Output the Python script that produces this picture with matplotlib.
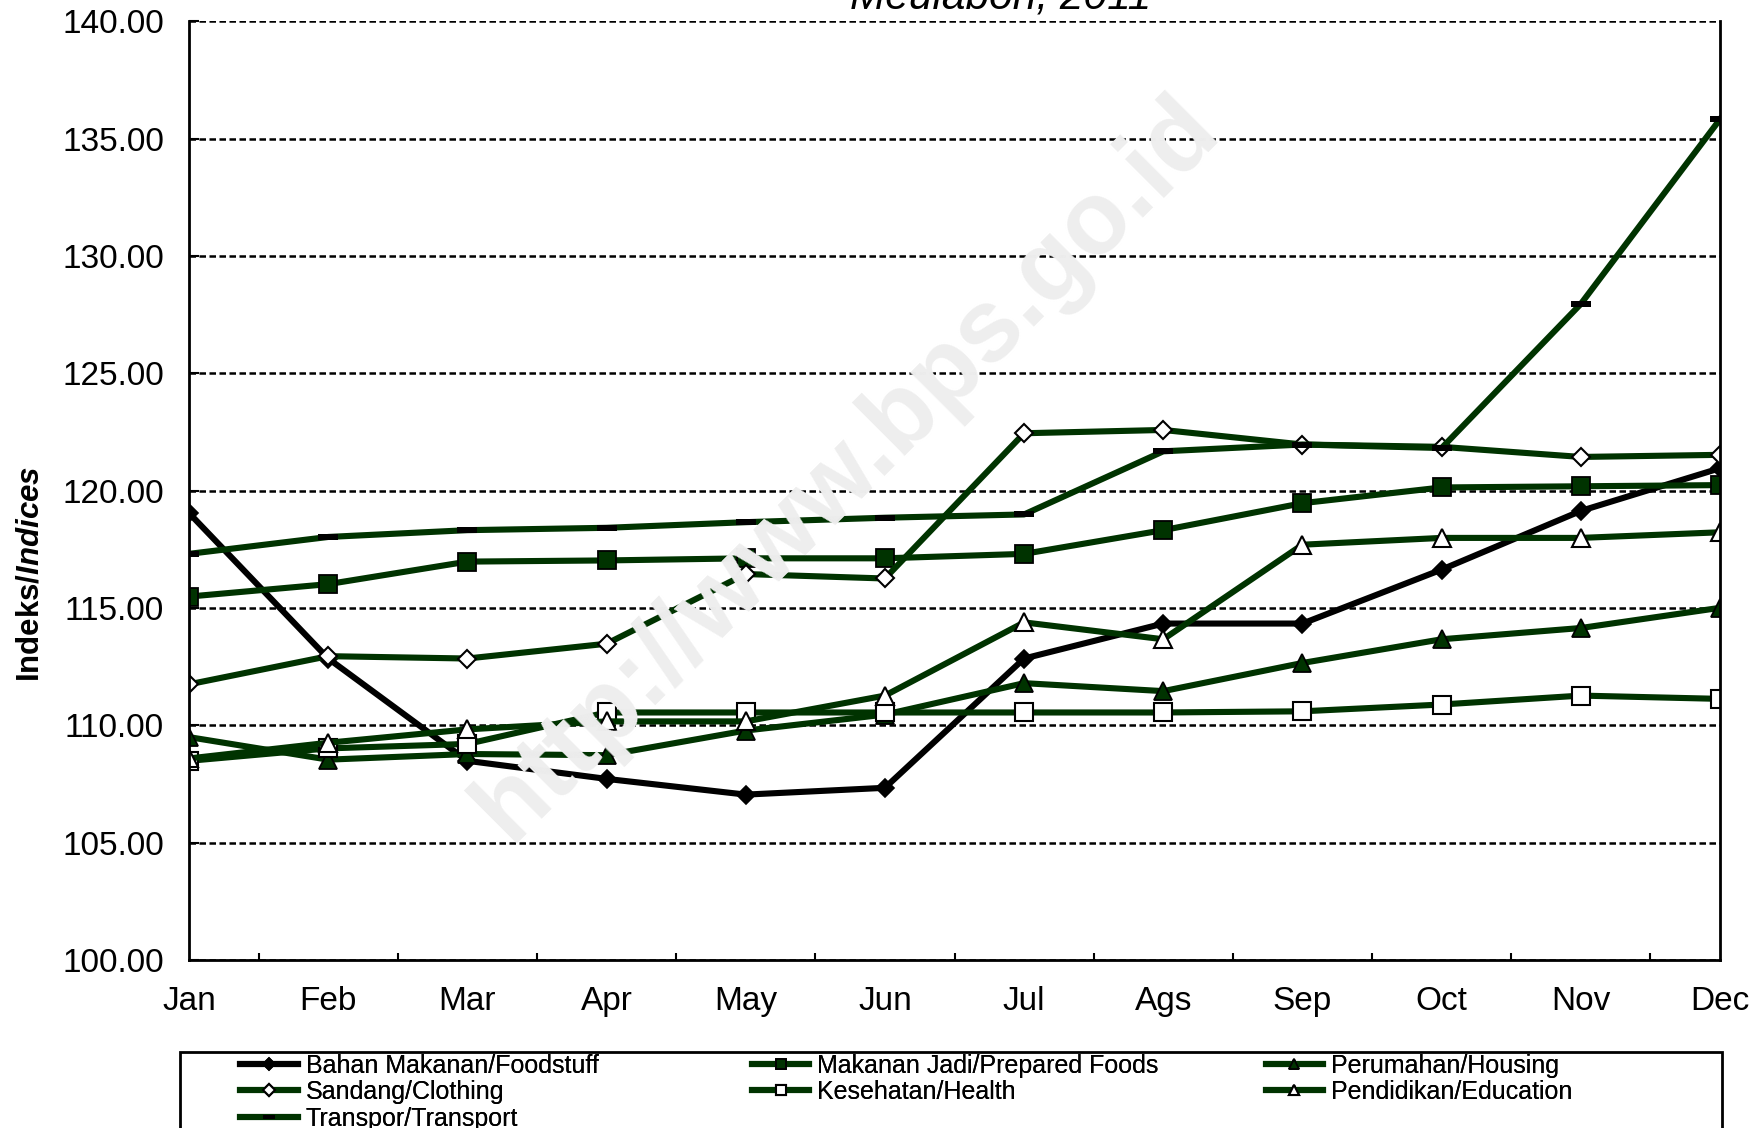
"""Indeks harga konsumen per kelompok, Meulaboh 2011."""

import matplotlib
matplotlib.use('Agg')
import matplotlib.pyplot as plt
from matplotlib.patches import Rectangle
from matplotlib.ticker import FormatStrFormatter, FixedLocator

plt.rcParams['font.family'] = ['Liberation Sans', 'DejaVu Sans']
plt.rcParams['mathtext.fontset'] = 'custom'
plt.rcParams['mathtext.rm'] = 'Liberation Sans'
plt.rcParams['mathtext.bf'] = 'Liberation Sans:bold'
plt.rcParams['mathtext.it'] = 'Liberation Sans:italic:bold'

months = ['Jan', 'Feb', 'Mar', 'Apr', 'May', 'Jun', 'Jul', 'Ags', 'Sep', 'Oct', 'Nov', 'Dec']

foodstuff = [119.05, 112.85, 108.49, 107.72, 107.05, 107.34, 112.85, 114.34, 114.34, 116.64, 119.14, 120.96]
prepared = [115.49, 116.02, 116.98, 117.03, 117.12, 117.12, 117.31, 118.32, 119.47, 120.14, 120.19, 120.24]
housing = [109.50, 108.54, 108.78, 108.73, 109.78, 110.46, 111.80, 111.46, 112.66, 113.67, 114.15, 115.01]
clothing = [111.75, 112.95, 112.85, 113.48, 116.45, 116.26, 122.45, 122.59, 121.97, 121.87, 121.44, 121.53]
health = [108.49, 109.02, 109.21, 110.55, 110.55, 110.55, 110.55, 110.55, 110.60, 110.89, 111.27, 111.13]
education = [108.59, 109.26, 109.83, 110.17, 110.17, 111.27, 114.39, 113.67, 117.70, 117.99, 117.99, 118.23]
transport = [117.31, 118.03, 118.32, 118.42, 118.66, 118.85, 118.99, 121.68, 121.97, 121.82, 127.96, 135.83]

GREEN = '#003300'
DASH = [(-1, -0.3), (1, -0.3), (1, 0.3), (-1, 0.3), (-1, -0.3)]

fig = plt.figure(figsize=(17.65, 11.28), dpi=100)
ax = fig.add_axes([0.1071, 0.1489, 0.8674, 0.8321])

x = list(range(len(months)))
lw = 4.4
h_food, = ax.plot(x, foodstuff, color='black', lw=lw, marker='D', ms=9.5,
                  mfc='black', mec='black', mew=1.2, label='Bahan Makanan/Foodstuff')
h_prep, = ax.plot(x, prepared, color=GREEN, lw=lw, marker='s', ms=12.5,
                  mfc=GREEN, mec='black', mew=1.3, label='Makanan Jadi/Prepared Foods')
h_hous, = ax.plot(x, housing, color=GREEN, lw=lw, marker='^', ms=12.5,
                  mfc=GREEN, mec='black', mew=1.3, label='Perumahan/Housing')
h_clot, = ax.plot(x, clothing, color=GREEN, lw=lw, marker='D', ms=9.5,
                  mfc='white', mec='black', mew=1.5, label='Sandang/Clothing')
h_heal, = ax.plot(x, health, color=GREEN, lw=lw, marker='s', ms=12.5,
                  mfc='white', mec='black', mew=1.5, label='Kesehatan/Health')
h_educ, = ax.plot(x, education, color=GREEN, lw=lw, marker='^', ms=12.5,
                  mfc='white', mec='black', mew=1.5, label='Pendidikan/Education')
h_tran, = ax.plot(x, transport, color=GREEN, lw=lw, marker=DASH, ms=14.4,
                  mfc='black', mec='black', mew=0, label='Transpor/Transport')

ax.set_xlim(0, 11)
ax.set_ylim(100, 140)
ax.set_yticks([100, 105, 110, 115, 120, 125, 130, 135, 140])
ax.yaxis.set_major_formatter(FormatStrFormatter('%.2f'))
ax.set_xticks(x)
ax.set_xticklabels(months)
ax.xaxis.set_minor_locator(FixedLocator([i + 0.5 for i in range(11)]))

ax.grid(axis='y', color='black', linestyle=(0, (2.6, 1.4)), lw=1.8, zorder=1)
ax.set_axisbelow(True)

ax.spines['top'].set_visible(False)
for s in ['left', 'bottom', 'right']:
    ax.spines[s].set_linewidth(2.0)

ax.tick_params(axis='y', direction='in', length=7, width=1.5, pad=18, labelsize=24)
ax.tick_params(axis='x', which='major', length=0, pad=19, labelsize=24)
ax.tick_params(axis='x', which='minor', direction='in', length=5, width=1.5)

ax.set_ylabel(r'$\mathbf{Indeks/}\mathit{Indices}$', fontsize=22.5)
ax.yaxis.set_label_coords(-0.094, 0.411)

# judul (terpotong di atas)
fig.text(0.567, 0.9925, 'Meulaboh, 2011', ha='center', va='baseline',
         fontsize=30.5, style='italic')

# watermark
fig.text(0.48, 0.584, 'http://www.bps.go.id', ha='center', va='center',
         rotation=45, fontsize=74, fontweight='bold', color='#eeeeee', zorder=0)

# kotak legenda
fig.patches.append(Rectangle((0.102, -0.05), 0.8737, 0.1174, transform=fig.transFigure,
                             fill=False, edgecolor='black', lw=2.0))

cols = [
    ([h_food, h_clot, h_tran], 0.136),
    ([h_prep, h_heal], 0.426),
    ([h_hous, h_educ], 0.717),
]
for handles, xpos in cols:
    leg = fig.legend(handles=handles, loc='upper left', bbox_to_anchor=(xpos, 0.066),
                     frameon=False, fontsize=18, borderpad=0, borderaxespad=0,
                     handlelength=2.3, handletextpad=0.32, labelspacing=0.1,
                     markerscale=0.6)
    fig.add_artist(leg)

fig.savefig('out.png', dpi=100)
